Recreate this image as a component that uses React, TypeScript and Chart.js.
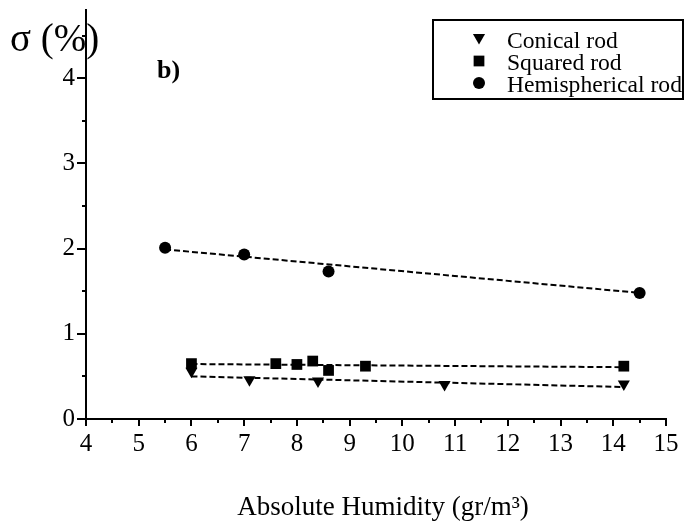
import React, { useEffect, useRef } from 'react';
import { Chart, registerables } from 'chart.js';

Chart.register(...registerables);

// ---- data ----
const seriesLabels = ['Conical rod', 'Squared rod', 'Hemispherical rod'];

const conicalX = [6.0, 7.1, 8.4, 10.8, 14.2];
const conicalY = [0.56, 0.46, 0.445, 0.405, 0.41];

const squaredX = [6.0, 7.6, 8.0, 8.3, 8.6, 9.3, 14.2];
const squaredY = [0.65, 0.65, 0.64, 0.68, 0.57, 0.62, 0.62];

const hemiX = [5.5, 7.0, 8.6, 14.5];
const hemiY = [2.01, 1.93, 1.73, 1.48];

// dashed fit lines (end points)
const conicalFitX = [6.0, 14.2];
const conicalFitY = [0.5, 0.375];
const squaredFitX = [6.0, 14.2];
const squaredFitY = [0.645, 0.608];
const hemiFitX = [5.5, 14.5];
const hemiFitY = [1.99, 1.48];

// axes
const xMin = 4;
const xMax = 15;
const yMin = 0;
const yMax = 4.8;
const xTickValues = [4, 4.5, 5, 5.5, 6, 6.5, 7, 7.5, 8, 8.5, 9, 9.5, 10, 10.5, 11, 11.5, 12, 12.5, 13, 13.5, 14, 14.5, 15];
const yTickValues = [0, 0.5, 1, 1.5, 2, 2.5, 3, 3.5, 4, 4.5];

const xTitle = 'Absolute Humidity (gr/m\u00B3)';
const yTitle = '\u03C3 (%)';
const panelLabel = 'b)';

const FONT = '"Liberation Serif", "DejaVu Serif", serif';

const pts = (xs: number[], ys: number[]) => xs.map((x, i) => ({ x, y: ys[i] }));

function drawMarker(ctx: CanvasRenderingContext2D, style: string, rotation: number, r: number, x: number, y: number) {
  ctx.beginPath();
  if (style === 'circle') {
    ctx.arc(x, y, r, 0, Math.PI * 2);
  } else if (style === 'rect') {
    const s = r * Math.SQRT1_2;
    ctx.rect(x - s, y - s, 2 * s, 2 * s);
  } else if (style === 'triangle') {
    let rad = (rotation * Math.PI) / 180;
    for (let k = 0; k < 3; k++) {
      const px = x + Math.sin(rad) * r;
      const py = y - Math.cos(rad) * r;
      if (k === 0) ctx.moveTo(px, py);
      else ctx.lineTo(px, py);
      rad += (2 * Math.PI) / 3;
    }
    ctx.closePath();
  }
  ctx.fill();
}

const decorPlugin = {
  id: 'decor',
  afterDraw(chart: any) {
    const ctx: CanvasRenderingContext2D = chart.ctx;
    const xs = chart.scales.x;
    const ys = chart.scales.y;
    ctx.save();
    ctx.strokeStyle = '#000';
    ctx.fillStyle = '#000';
    ctx.lineWidth = 2;
    // tick marks (major longer, minor shorter), pointing outwards
    xs.ticks.forEach((t: any) => {
      const px = Math.round(xs.getPixelForValue(t.value));
      const len = Number.isInteger(t.value) ? 7 : 4;
      ctx.beginPath();
      ctx.moveTo(px, xs.top);
      ctx.lineTo(px, xs.top + len);
      ctx.stroke();
    });
    ys.ticks.forEach((t: any) => {
      const py = Math.round(ys.getPixelForValue(t.value));
      const len = Number.isInteger(t.value) ? 9 : 4;
      ctx.beginPath();
      ctx.moveTo(ys.right, py);
      ctx.lineTo(ys.right - len, py);
      ctx.stroke();
    });

    // y title and panel label
    ctx.textAlign = 'left';
    ctx.textBaseline = 'alphabetic';
    ctx.font = `39px ${FONT}`;
    ctx.fillText(yTitle, 10, 51);
    ctx.font = `bold 26px ${FONT}`;
    ctx.fillText(panelLabel, 157, 78);

    // x title
    ctx.textAlign = 'center';
    ctx.font = `27px ${FONT}`;
    ctx.fillText(xTitle, 383, 515);
    ctx.textAlign = 'left';

    // legend box
    const bx = 433, by = 20, bw = 250, bh = 79;
    ctx.lineWidth = 2;
    ctx.strokeRect(bx, by, bw, bh);
    ctx.font = `23.6px ${FONT}`;
    const entries = chart.data.datasets.filter((d: any) => d.label);
    entries.forEach((d: any, i: number) => {
      const baseline = 48 + i * 22;
      let my = baseline - 9;
      if (d.pointStyle === 'triangle') my -= 1.5;
      drawMarker(ctx, d.pointStyle, d.pointRotation || 0, d.pointRadius, 479, my);
      ctx.fillText(d.label, 507, baseline);
    });
    ctx.restore();
  },
};

export default function App() {
  const canvasRef = useRef<HTMLCanvasElement | null>(null);

  useEffect(() => {
    if (!canvasRef.current) return;
    const lineDs = (xs: number[], ys: number[]) => ({
      data: pts(xs, ys),
      showLine: true,
      borderColor: '#000',
      borderWidth: 2,
      borderDash: [6, 3],
      pointRadius: 0,
      pointHoverRadius: 0,
      fill: false,
    });
    const chart = new Chart(canvasRef.current, {
      type: 'scatter',
      data: {
        datasets: [
          {
            label: seriesLabels[0],
            data: pts(conicalX, conicalY),
            pointStyle: 'triangle',
            pointRotation: 180,
            pointRadius: 7,
            backgroundColor: '#000',
            borderColor: '#000',
            borderWidth: 0,
          },
          {
            label: seriesLabels[1],
            data: pts(squaredX, squaredY),
            pointStyle: 'rect',
            pointRadius: 7.6,
            backgroundColor: '#000',
            borderColor: '#000',
            borderWidth: 0,
          },
          {
            label: seriesLabels[2],
            data: pts(hemiX, hemiY),
            pointStyle: 'circle',
            pointRadius: 6,
            backgroundColor: '#000',
            borderColor: '#000',
            borderWidth: 0,
          },
          lineDs(conicalFitX, conicalFitY),
          lineDs(squaredFitX, squaredFitY),
          lineDs(hemiFitX, hemiFitY),
        ] as any,
      },
      options: {
        responsive: false,
        animation: false,
        devicePixelRatio: 1,
        layout: { padding: { top: 10, right: 20, left: 0, bottom: 0 } },
        plugins: {
          legend: { display: false },
          tooltip: { enabled: false },
        },
        scales: {
          x: {
            type: 'linear',
            min: xMin,
            max: xMax,
            afterBuildTicks: (s: any) => {
              s.ticks = xTickValues.map((v) => ({ value: v }));
            },
            afterFit: (s: any) => {
              s.height = 103;
              s.paddingLeft = 0;
              s.paddingRight = 0;
            },
            grid: { display: true, drawOnChartArea: false, drawTicks: false },
            border: { display: true, color: '#000', width: 2 },
            ticks: {
              autoSkip: false,
              maxRotation: 0,
              padding: 10,
              color: '#000',
              font: { family: FONT, size: 25 },
              callback: (v: any) => (Number.isInteger(v) ? String(v) : ''),
            },
            title: { display: false },
          },
          y: {
            type: 'linear',
            min: yMin,
            max: yMax,
            afterBuildTicks: (s: any) => {
              s.ticks = yTickValues.map((v) => ({ value: v }));
            },
            afterFit: (s: any) => {
              s.width = 86;
              s.paddingTop = 0;
              s.paddingBottom = 0;
            },
            grid: { display: true, drawOnChartArea: false, drawTicks: false },
            border: { display: true, color: '#000', width: 2 },
            ticks: {
              autoSkip: false,
              padding: 11,
              color: '#000',
              font: { family: FONT, size: 25 },
              callback: (v: any) => (Number.isInteger(v) ? String(v) : ''),
            },
          },
        },
      },
      plugins: [decorPlugin],
    });
    return () => chart.destroy();
  }, []);

  return (
    <div style={{ position: 'absolute', left: 0, top: 0, width: 686, height: 522, background: '#fff' }}>
      <canvas ref={canvasRef} width={686} height={522} style={{ display: 'block' }} />
    </div>
  );
}
